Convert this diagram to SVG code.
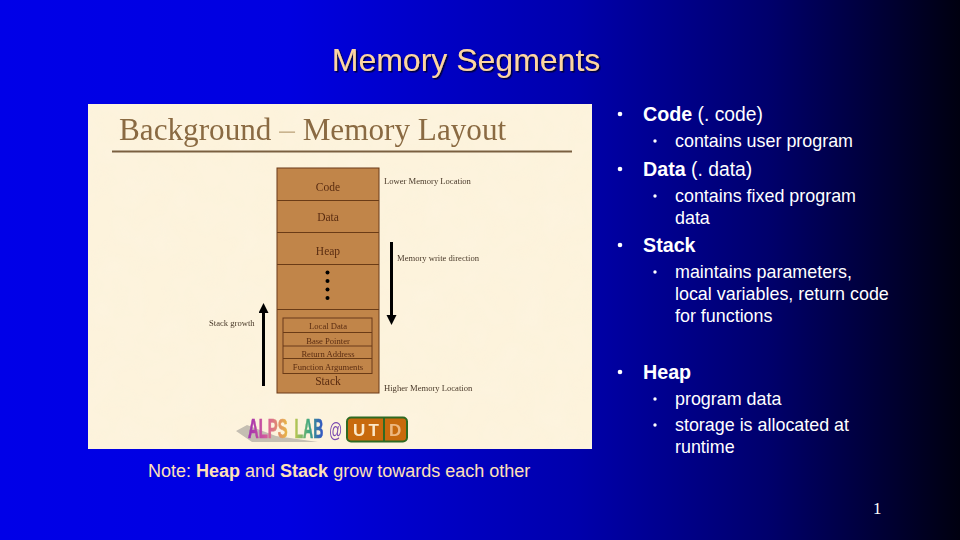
<svg xmlns="http://www.w3.org/2000/svg" width="960" height="540" viewBox="0 0 960 540">
<defs>
<linearGradient id="bg" x1="0" y1="0" x2="1" y2="0">
<stop offset="0" stop-color="#0000e8"/><stop offset="0.3" stop-color="#0000e0"/><stop offset="0.6" stop-color="#0000ac"/><stop offset="0.8" stop-color="#00006c"/><stop offset="1" stop-color="#000010"/>
</linearGradient>
<linearGradient id="alps" x1="0" y1="0" x2="1" y2="0">
<stop offset="0" stop-color="#a030b0"/><stop offset="0.5" stop-color="#d8609a"/><stop offset="1" stop-color="#e8b840"/>
</linearGradient>
<linearGradient id="lab" x1="0" y1="0" x2="1" y2="0">
<stop offset="0" stop-color="#c0c850"/><stop offset="0.5" stop-color="#40a880"/><stop offset="1" stop-color="#3050c8"/>
</linearGradient>
<filter id="soft" x="-5%" y="-5%" width="110%" height="110%"><feGaussianBlur stdDeviation="0.45"/></filter>
<filter id="shadow" x="-5%" y="-20%" width="110%" height="140%"><feDropShadow dx="1.5" dy="1.5" stdDeviation="0.6" flood-color="#000030" flood-opacity="0.9"/></filter>
<filter id="paper" x="0" y="0" width="100%" height="100%">
<feTurbulence type="fractalNoise" baseFrequency="0.035" numOctaves="2" seed="4" result="n"/>
<feColorMatrix in="n" type="matrix" values="0 0 0 0 0.98  0 0 0 0 0.91  0 0 0 0 0.76  0.9 0 0 0 -0.3" result="c"/>
<feComposite in="c" in2="SourceGraphic" operator="in" result="t"/>
<feMerge><feMergeNode in="SourceGraphic"/><feMergeNode in="t"/></feMerge>
</filter>
<marker id="ah" markerUnits="userSpaceOnUse" markerWidth="11" markerHeight="11" refX="7" refY="5" orient="auto"><path d="M0 0L10 5L0 10Z" fill="#000"/></marker>
</defs>
<style>
text{font-family:"Liberation Sans",Arial,sans-serif}
.l1{font-size:19.7px;fill:#fff}
.l2{font-size:17.9px;fill:#fff}
.b{font-weight:bold}
.bu{fill:#fff}
.reg{font-size:19.3px}
.ser{font-family:"Liberation Serif","Times New Roman",serif}
.cell{font-size:11.5px;fill:#5a2c10;text-anchor:middle}
.small{font-size:8.6px;fill:#4a3a2a}
.seg{font-size:8.6px;fill:#5a2c10;text-anchor:middle}
.ln{stroke:#6b3a16;stroke-width:1;fill:none}
</style>
<rect width="960" height="540" fill="url(#bg)"/>
<text id="title" x="466" y="71" text-anchor="middle" font-size="32" fill="#fcd5a2" filter="url(#shadow)">Memory Segments</text>

<g id="picture">
<rect x="88" y="104" width="504" height="345" fill="#fdf3dc" filter="url(#paper)"/>
<g filter="url(#soft)">
<text x="119" y="140" class="ser" font-size="31.200" fill="#8a6a42">Background <tspan fill="#c9b48f">–</tspan> Memory Layout</text>
<line x1="112" y1="151.500" x2="572" y2="151.500" stroke="#7a6040" stroke-width="2"/>
<g id="node-memory">
<rect x="277" y="168" width="102" height="225" fill="#c1854a" stroke="#6b3a16" stroke-width="1"/>
<path class="ln" d="M277 200.500H379M277 232.500H379M277 264.500H379M277 309.500H379"/>
<text x="328" y="191" class="ser cell">Code</text>
<text x="328" y="221" class="ser cell">Data</text>
<text x="328" y="255" class="ser cell">Heap</text>
<circle cx="327.500" cy="272.500" r="2" fill="#000"/><circle cx="327.500" cy="281" r="2" fill="#000"/><circle cx="327.500" cy="289.500" r="2" fill="#000"/><circle cx="327.500" cy="298" r="2" fill="#000"/>
</g>
<g id="node-stack">
<rect x="283" y="318" width="89" height="55.500" class="ln"/>
<path class="ln" d="M283 332.500H372M283 346H372M283 358.500H372"/>
<text x="328" y="329" class="ser seg">Local Data</text>
<text x="328" y="343.500" class="ser seg">Base Pointer</text>
<text x="328" y="356.500" class="ser seg">Return Address</text>
<text x="328" y="369.500" class="ser seg">Function Arguments</text>
<text x="328" y="384.500" class="ser cell" font-size="11">Stack</text>
</g>
<text x="384" y="184" class="ser small">Lower Memory Location</text>
<text x="397" y="261" class="ser small">Memory write direction</text>
<text x="209" y="326" class="ser small">Stack growth</text>
<text x="384" y="391" class="ser small">Higher Memory Location</text>
</g>
<g id="connectors">
<line x1="391.500" y1="242" x2="391.500" y2="322" stroke="#000" stroke-width="3" marker-end="url(#ah)"/>
<line x1="263.500" y1="386" x2="263.500" y2="306" stroke="#000" stroke-width="3" marker-end="url(#ah)"/>
</g>
<g id="logo" filter="url(#soft)">
<path d="M236 431L252 442L318 442L276 436L247 425Z" fill="#c4beb2"/>
<text transform="translate(248 438) scale(0.53 1)" font-size="28" font-weight="bold" fill="url(#alps)" stroke="url(#alps)" stroke-width="0.7">ALPS</text>
<text transform="translate(294.500 438) scale(0.5 1)" font-size="28" font-weight="bold" fill="url(#lab)" stroke="url(#lab)" stroke-width="0.7">LAB</text>
<text transform="translate(329 437) scale(0.62 1)" font-size="21" fill="#7a4ab0">@</text>
<rect x="347" y="417.500" width="60" height="24" rx="4" fill="#c86a10" stroke="#2f6a20" stroke-width="2"/>
<line x1="384" y1="417" x2="384" y2="441" stroke="#2f6a20" stroke-width="2"/>
<text x="353" y="436" font-size="17" font-weight="bold" fill="#fbe8c8" textLength="26">UT</text>
<text x="389" y="436" font-size="17" font-weight="bold" fill="#eeb880">D</text>
</g>
</g>

<g id="bullets">
<g id="code"><circle cx="620" cy="114" r="2.300" class="bu"/><text x="643" y="120.500" class="l1"><tspan class="b">Code</tspan><tspan class="reg"> (. code)</tspan></text>
<circle cx="655" cy="141" r="1.700" class="bu"/><text x="675" y="147" class="l2">contains user program</text></g>
<g id="data"><circle cx="620" cy="169" r="2.300" class="bu"/><text x="643" y="175.500" class="l1"><tspan class="b">Data</tspan><tspan class="reg"> (. data)</tspan></text>
<circle cx="655" cy="196" r="1.700" class="bu"/><text x="675" y="202" class="l2">contains fixed program</text><text x="675" y="224" class="l2">data</text></g>
<g id="stack"><circle cx="620" cy="245" r="2.300" class="bu"/><text x="643" y="251.500" class="l1 b">Stack</text>
<circle cx="655" cy="272" r="1.700" class="bu"/><text x="675" y="278" class="l2">maintains parameters,</text><text x="675" y="300" class="l2">local variables, return code</text><text x="675" y="322" class="l2">for functions</text></g>
<g id="heap"><circle cx="620" cy="372" r="2.300" class="bu"/><text x="643" y="378.500" class="l1 b">Heap</text>
<circle cx="655" cy="399" r="1.700" class="bu"/><text x="675" y="405" class="l2">program data</text>
<circle cx="655" cy="425" r="1.700" class="bu"/><text x="675" y="431" class="l2">storage is allocated at</text><text x="675" y="453" class="l2">runtime</text></g>
</g>
<text id="note" x="148" y="477" font-size="18" fill="#ffe0b8">Note: <tspan font-weight="bold">Heap</tspan> and <tspan font-weight="bold">Stack</tspan> grow towards each other</text>
<text id="page" x="873" y="514" class="ser" font-size="17" fill="#fff">1</text>
</svg>
